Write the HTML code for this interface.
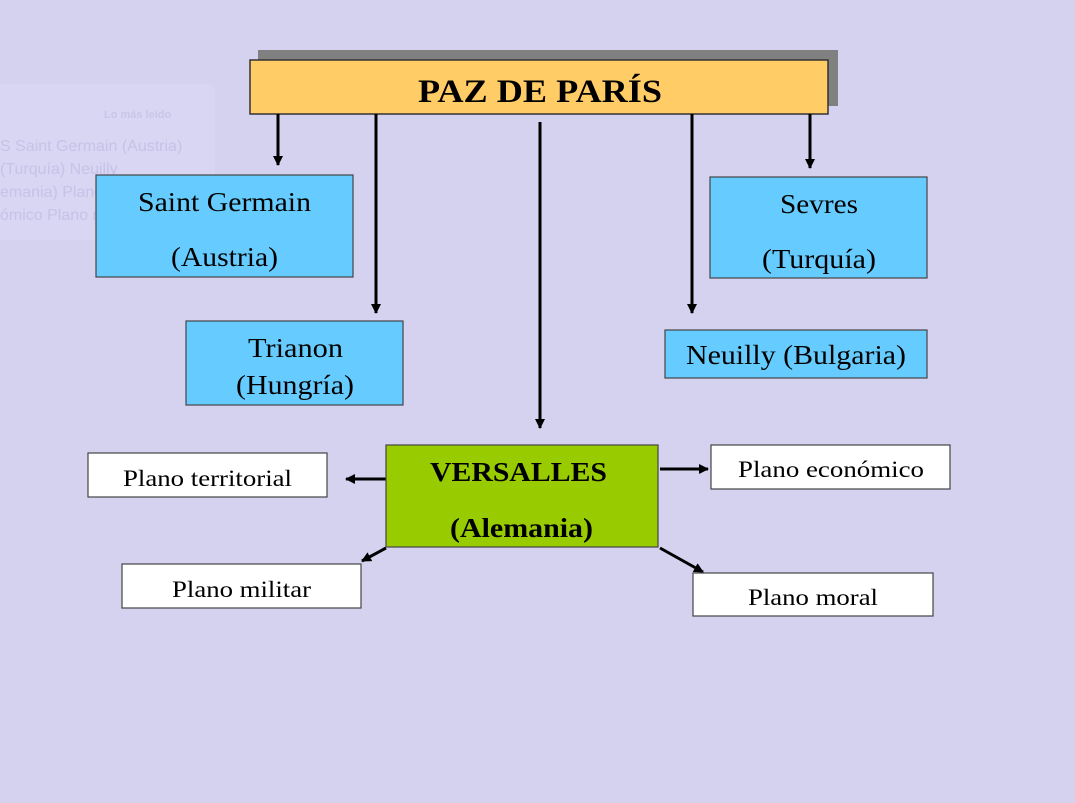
<!DOCTYPE html>
<html><head><meta charset="utf-8"><style>
html,body{margin:0;padding:0;background:#d5d2f0;}
svg{display:block}
text{font-family:"Liberation Serif",serif;fill:#000}
</style></head><body>
<svg width="1075" height="803" viewBox="0 0 1075 803" xmlns="http://www.w3.org/2000/svg">
<defs><marker id="a" markerWidth="10" markerHeight="10" refX="9" refY="5" orient="auto" markerUnits="userSpaceOnUse"><path d="M0,0 L10,5 L0,10 Z" fill="#000"/></marker></defs>
<rect width="1075" height="803" fill="#d5d2f0"/>
<rect x="-5" y="84" width="220" height="156" rx="8" fill="#d9d6f3"/>
<g>
<text x="104" y="118" font-size="11" font-weight="bold" style="fill:#c9c5e9;font-family:'Liberation Sans',sans-serif">Lo más leído</text>
<text x="0" y="151" font-size="16" style="fill:#c6c2e8;font-family:'Liberation Sans',sans-serif">S Saint Germain (Austria)</text>
<text x="0" y="174" font-size="16" style="fill:#c6c2e8;font-family:'Liberation Sans',sans-serif">(Turquía) Neuilly</text>
<text x="0" y="197" font-size="16" style="fill:#c6c2e8;font-family:'Liberation Sans',sans-serif">emania) Plano territorial</text>
<text x="0" y="220" font-size="16" style="fill:#c6c2e8;font-family:'Liberation Sans',sans-serif">ómico Plano moral</text>
</g>
<rect x="258" y="50" width="580" height="56" fill="#808080"/>
<rect x="250" y="60" width="578" height="54" fill="#ffcc66" stroke="#333" stroke-width="1.5"/>
<text x="418" y="102" font-size="33" font-weight="bold" textLength="244" lengthAdjust="spacingAndGlyphs">PAZ DE PARÍS</text>
<g stroke="#000" stroke-width="3" fill="none" marker-end="url(#a)">
<line x1="278" y1="114" x2="278" y2="165"/>
<line x1="376" y1="114" x2="376" y2="313"/>
<line x1="540" y1="122" x2="540" y2="428"/>
<line x1="692" y1="114" x2="692" y2="313"/>
<line x1="810" y1="114" x2="810" y2="168"/>
<line x1="386" y1="479" x2="346" y2="479"/>
<line x1="660" y1="469" x2="708" y2="469"/>
<line x1="386" y1="548" x2="362" y2="561"/>
<line x1="660" y1="548" x2="703" y2="572"/>
</g>
<g stroke="#444" stroke-width="1.2" fill="#66ccff">
<rect x="96" y="175" width="257" height="102"/>
<rect x="710" y="177" width="217" height="101"/>
<rect x="186" y="321" width="217" height="84"/>
<rect x="665" y="330" width="262" height="48"/>
</g>
<rect x="386" y="445" width="272" height="102" fill="#99cc00" stroke="#444" stroke-width="1.2"/>
<g stroke="#444" stroke-width="1.2" fill="#fff">
<rect x="88" y="453" width="239" height="44"/>
<rect x="711" y="445" width="239" height="44"/>
<rect x="122" y="564" width="239" height="44"/>
<rect x="693" y="573" width="240" height="43"/>
</g>
<g font-size="27" lengthAdjust="spacingAndGlyphs">
<text x="138" y="211" textLength="173" lengthAdjust="spacingAndGlyphs">Saint Germain</text>
<text x="171" y="266" textLength="107" lengthAdjust="spacingAndGlyphs">(Austria)</text>
<text x="780" y="213" textLength="78" lengthAdjust="spacingAndGlyphs">Sevres</text>
<text x="762" y="268" textLength="114" lengthAdjust="spacingAndGlyphs">(Turquía)</text>
<text x="248" y="357" textLength="95" lengthAdjust="spacingAndGlyphs">Trianon</text>
<text x="236" y="394" textLength="118" lengthAdjust="spacingAndGlyphs">(Hungría)</text>
<text x="686" y="364" textLength="220" lengthAdjust="spacingAndGlyphs">Neuilly (Bulgaria)</text>
</g>
<g font-size="27" font-weight="bold">
<text x="430" y="481" textLength="177" lengthAdjust="spacingAndGlyphs">VERSALLES</text>
<text x="450" y="537" textLength="143" lengthAdjust="spacingAndGlyphs">(Alemania)</text>
</g>
<g font-size="23">
<text x="123" y="486" textLength="169" lengthAdjust="spacingAndGlyphs">Plano territorial</text>
<text x="738" y="477" textLength="186" lengthAdjust="spacingAndGlyphs">Plano económico</text>
<text x="172" y="597" textLength="139" lengthAdjust="spacingAndGlyphs">Plano militar</text>
<text x="748" y="605" textLength="130" lengthAdjust="spacingAndGlyphs">Plano moral</text>
</g>
</svg>
</body></html>
